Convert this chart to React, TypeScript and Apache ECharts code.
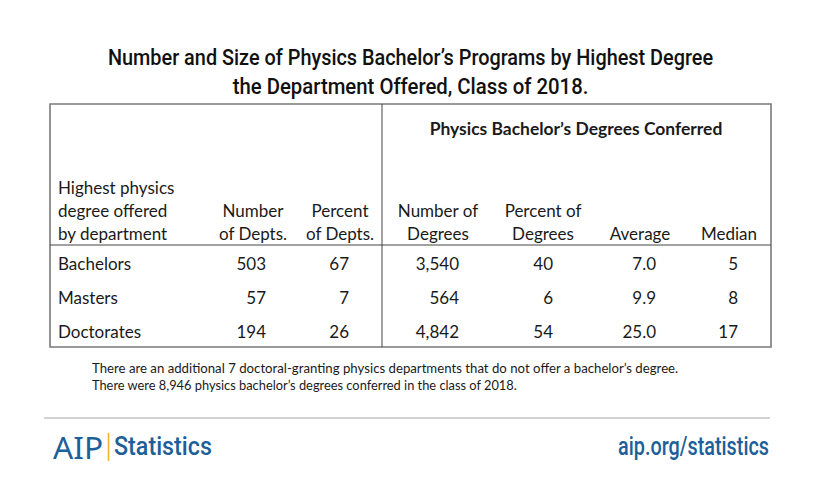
import React, { useEffect, useRef } from "react";
import * as echarts from "echarts";

const titleLines = [
  "Number and Size of Physics Bachelor\u2019s Programs by Highest Degree",
  "the Department Offered, Class of 2018.",
];
const groupHeader = "Physics Bachelor\u2019s Degrees Conferred";
const columnHeaders: string[][] = [
  ["Highest physics", "degree offered", "by department"],
  ["Number", "of Depts."],
  ["Percent", "of Depts."],
  ["Number of", "Degrees"],
  ["Percent of", "Degrees"],
  ["Average"],
  ["Median"],
];
const categories = ["Bachelors", "Masters", "Doctorates"];
const numberOfDepts = ["503", "57", "194"];
const percentOfDepts = ["67", "7", "26"];
const numberOfDegrees = ["3,540", "564", "4,842"];
const percentOfDegrees = ["40", "6", "54"];
const averageDegrees = ["7.0", "9.9", "25.0"];
const medianDegrees = ["5", "8", "17"];
const footnotes = [
  "There are an additional 7 doctoral-granting physics departments that do not offer a bachelor\u2019s degree.",
  "There were 8,946 physics bachelor\u2019s degrees conferred in the class of 2018.",
];

const BODY_FONT = "Lato";
const COND_FONT = "Roboto";
const TEXT = "#1a1a1a";
const BLUE = "#1d5f98";

function measure(text: string, fontSize: number, family: string, weight: string | number) {
  const c = document.createElement("canvas").getContext("2d");
  if (!c) return 0;
  c.font = `${weight} ${fontSize}px ${family}`;
  return c.measureText(text).width;
}

export default function App() {
  const ref = useRef<HTMLDivElement>(null);
  useEffect(() => {
    document.body.style.margin = "0";
    if (!ref.current) return;
    const chart = echarts.init(ref.current, undefined, { renderer: "svg" });

    const elems: any[] = [];
    const txt = (
      text: string,
      x: number,
      y: number,
      align: string,
      fontSize: number,
      opts: any = {}
    ) => {
      const family = opts.fontFamily ?? BODY_FONT;
      const weight = opts.fontWeight ?? "normal";
      let scaleX = 1;
      if (opts.width) {
        const w = measure(text, fontSize, family, weight);
        if (w > 0) scaleX = opts.width / w;
      }
      return {
        type: "text",
        x,
        y,
        scaleX,
        style: {
          text,
          x: 0,
          y: 0,
          align,
          verticalAlign: "middle",
          fontSize,
          fontFamily: family,
          fontWeight: weight,
          fill: opts.fill ?? TEXT,
        },
      };
    };

    // Title
    const titleY = [57, 86];
    const titleW = [605, 356];
    titleLines.forEach((t, i) =>
      elems.push(
        txt(t, 410.5, titleY[i], "center", 22.5, {
          fontFamily: COND_FONT,
          fontWeight: 500,
          fill: "#111",
          width: titleW[i],
        })
      )
    );

    // Table frame
    const L = 50, R = 771, T = 104, B = 347, DIV = 382, HL = 245;
    elems.push({
      type: "rect",
      shape: { x: L, y: T, width: R - L, height: B - T },
      style: { fill: "none", stroke: "#7a7a7a", lineWidth: 1.6 },
    });
    elems.push({
      type: "line",
      shape: { x1: DIV, y1: T, x2: DIV, y2: B },
      style: { stroke: "#444", lineWidth: 1 },
    });
    elems.push({
      type: "line",
      shape: { x1: L, y1: HL, x2: R, y2: HL },
      style: { stroke: "#444", lineWidth: 1 },
    });

    // Group header
    elems.push(txt(groupHeader, 576, 129, "center", 17, { fontWeight: "bold", width: 293 }));

    // Column headers
    const headerCenters = [58, 253, 340, 438, 543, 640, 729];
    const lineYs = [187, 210, 233];
    columnHeaders.forEach((lines, c) => {
      const start = 3 - lines.length;
      lines.forEach((l, i) =>
        elems.push(txt(l, headerCenters[c], lineYs[start + i], c === 0 ? "left" : "center", 17))
      );
    });

    // Data rows
    const rowYs = [263, 297, 331];
    const cols = [numberOfDepts, percentOfDepts, numberOfDegrees, percentOfDegrees, averageDegrees, medianDegrees];
    const rightEdges = [266, 349, 459, 553, 656, 738];
    categories.forEach((cat, r) => {
      elems.push(txt(cat, 58, rowYs[r], "left", 17));
      cols.forEach((col, c) => elems.push(txt(col[r], rightEdges[c], rowYs[r], "right", 17)));
    });

    // Footnotes
    const fnW = [587, 426];
    footnotes.forEach((f, i) => elems.push(txt(f, 92, 368 + i * 17, "left", 13, { width: fnW[i] })));

    // Footer
    elems.push({
      type: "line",
      shape: { x1: 44, y1: 418, x2: 770, y2: 418 },
      style: { stroke: "#c4c4c4", lineWidth: 1.5 },
    });
    elems.push(
      txt("AIP", 53, 447, "left", 31, { fontFamily: "Noto Sans", fill: BLUE, width: 50 })
    );
    elems.push({
      type: "line",
      shape: { x1: 108.5, y1: 433, x2: 108.5, y2: 461 },
      style: { stroke: "#f2b424", lineWidth: 1.6 },
    });
    elems.push(
      txt("Statistics", 114, 447, "left", 25, { fontFamily: COND_FONT, fontWeight: 500, fill: BLUE, width: 98 })
    );
    elems.push(
      txt("aip.org/statistics", 769, 447, "right", 25, { fontFamily: COND_FONT, fontWeight: 500, fill: BLUE, width: 151 })
    );

    chart.setOption({
      animation: false,
      backgroundColor: "#ffffff",
      graphic: { elements: elems },
    });
    return () => chart.dispose();
  }, []);
  return <div ref={ref} style={{ width: 820, height: 499 }} />;
}
